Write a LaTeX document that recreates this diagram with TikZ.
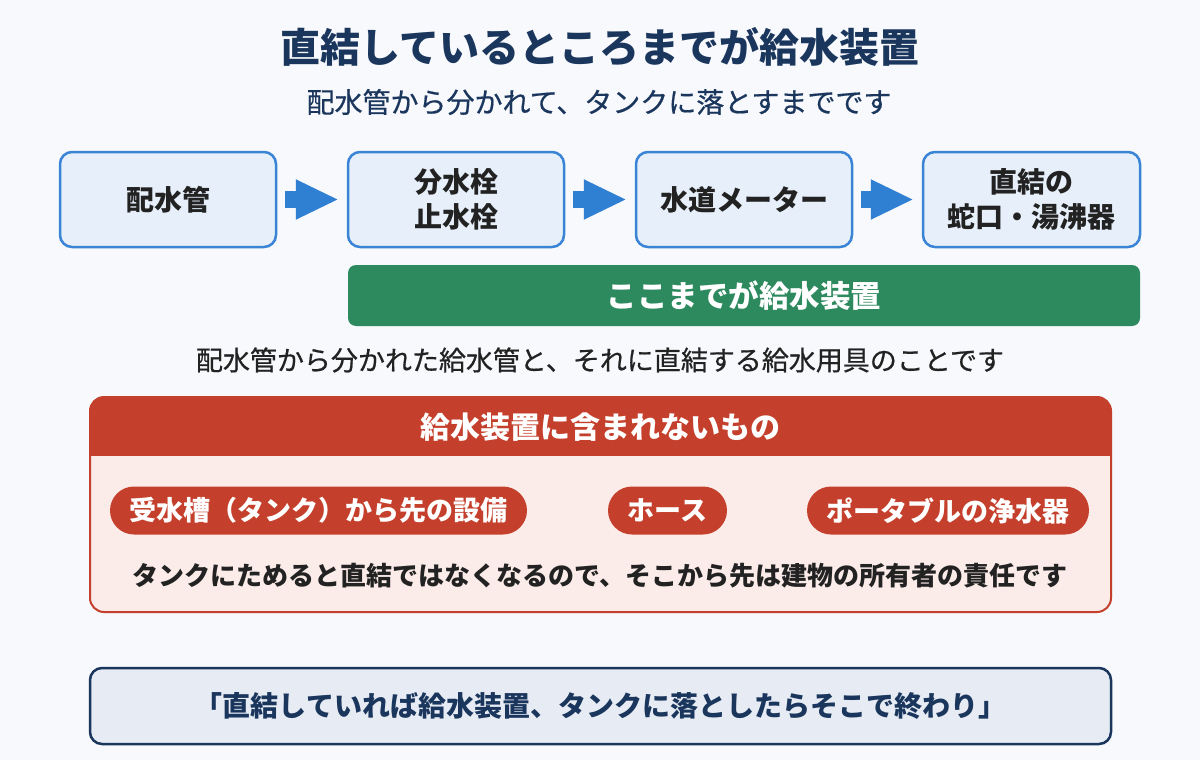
\documentclass[tikz,border=0pt]{standalone}
\usepackage{fontspec}
\setmainfont{Noto Sans CJK JP}
\newfontfamily\jpmed{Noto Sans CJK JP}[FakeBold=0.6]
\usetikzlibrary{arrows.meta,positioning,calc}
\definecolor{bgc}{HTML}{F7F9FC}
\definecolor{navy}{HTML}{1B365D}
\definecolor{boxfill}{HTML}{E7F0FA}
\definecolor{boxline}{HTML}{3A84D6}
\definecolor{arrowc}{HTML}{2F7FD2}
\definecolor{darktext}{HTML}{222222}
\definecolor{greenc}{HTML}{2D8A5E}
\definecolor{redc}{HTML}{C5402C}
\definecolor{redbody}{HTML}{FCECE9}
\definecolor{bottomfill}{HTML}{E7ECF4}
\newcommand{\fs}[2]{\fontsize{#1}{#2}\selectfont}
\tikzset{
  flowbox/.style={draw=boxline, line width=2.5pt, fill=boxfill, rounded corners=12pt,
    minimum width=216pt, minimum height=95pt, align=center, inner sep=0pt,
    text=darktext, font=\fs{28}{35}\bfseries},
  flowarrow/.style={draw=arrowc, line width=17pt, -{Triangle[length=43pt,width=37pt]}},
  pill/.style={fill=redc, rounded corners=24pt, minimum height=48pt, inner sep=0pt,
    text=white, font=\fs{27}{30}\bfseries},
}
\begin{document}
\begin{tikzpicture}[x=1pt,y=-1pt]
\useasboundingbox (0,0) rectangle (1200,760);
\fill[bgc] (0,0) rectangle (1200,760);

% title
\node[text=navy, font=\fs{40}{44}\bfseries] (title) at (600,47) {直結しているところまでが給水装置};
\node[text=navy, font=\fs{28}{30}\jpmed] (subtitle) at (599,102) {配水管から分かれて、タンクに落とすまでです};

% flow
\node[flowbox] (b1) at (168,199.5) {配水管};
\node[flowbox] (b2) at (456,199.5) {分水栓\\止水栓};
\node[flowbox] (b3) at (744,199.5) {水道メーター};
\node[flowbox, minimum width=217pt] (b4) at (1031.5,199.5) {直結の\\蛇口・湯沸器};
\draw[flowarrow] ([xshift=8pt]b1.east) -- ([xshift=-8pt]b2.west);
\draw[flowarrow] ([xshift=8pt]b2.east) -- ([xshift=-8pt]b3.west);
\draw[flowarrow] ([xshift=8pt]b3.east) -- ([xshift=-8pt]b4.west);

% green bar
\node[fill=greenc, rounded corners=8pt, minimum width=792pt, minimum height=61pt, inner sep=0pt,
  text=white, font=\fs{30.5}{32}\bfseries] (green) at (744,295.5) {ここまでが給水装置};

\node[text=darktext, font=\fs{27}{30}\jpmed] (desc) at (600,360) {配水管から分かれた給水管と、それに直結する給水用具のことです};

% red box
\fill[redbody, rounded corners=14pt] (90,397) rectangle (1111,612);
\fill[redc, rounded corners=14pt] (90,397) rectangle (1111,440);
\fill[redc] (90,425) rectangle (1111,456);
\draw[redc, line width=2pt, rounded corners=14pt] (90,397) rectangle (1111,612);
\node[text=white, font=\fs{30}{32}\bfseries] (head) at (600.5,427) {給水装置に含まれないもの};

\node[pill, minimum width=417pt] (p1) at (318.5,510.5) {受水槽（タンク）から先の設備};
\node[pill, minimum width=119pt] (p2) at (667.5,510.5) {ホース};
\node[pill, minimum width=282pt] (p3) at (948,510.5) {ポータブルの浄水器};

\node[text=darktext, font=\fs{26}{30}\bfseries] (note) at (600,576) {タンクにためると直結ではなくなるので、そこから先は建物の所有者の責任です};

% bottom
\node[draw=navy, line width=2.5pt, fill=bottomfill, rounded corners=12pt, minimum width=1021pt,
  minimum height=76pt, inner sep=0pt, text=navy, font=\fs{28}{30}\bfseries] (bottom) at (600.5,706)
  {「直結していれば給水装置、タンクに落としたらそこで終わり」};
\end{tikzpicture}
\end{document}
